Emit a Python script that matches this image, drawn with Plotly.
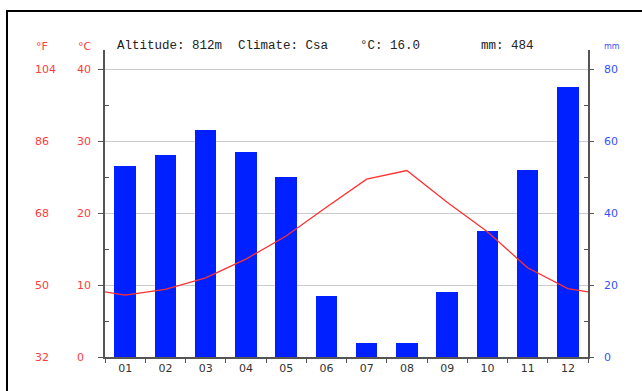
import plotly.graph_objects as go

# Monthly climate normals
months = ["01", "02", "03", "04", "05", "06", "07", "08", "09", "10", "11", "12"]
temp_c = [8.6, 9.4, 11.0, 13.6, 16.8, 20.8, 24.7, 25.9, 21.5, 17.4, 12.4, 9.5]
precip_mm = [53, 56, 63, 57, 50, 17, 4, 4, 18, 35, 52, 75]

altitude_m = 812
climate_class = "Csa"

temp_ticks_c = [0, 10, 20, 30, 40]
precip_ticks_mm = [0, 20, 40, 60, 80]

# Plot-area geometry in pixels
W, H = 642, 391
L, R, T, B = 105, 588, 50, 357
Y40 = 69  # pixel row of the 40 °C / 80 mm line
px_per_c = (B - Y40) / 40.0
c_top = (B - T) / px_per_c
mm_top = c_top * 2

def px_x(px):
    return (px - L) / (R - L)

def px_y(py):
    return (B - py) / (B - T)

x_num = list(range(1, 13))
# temperature curve wraps around the year at both edges
edge = (temp_c[0] + temp_c[-1]) / 2
line_x = [0.5] + x_num + [12.5]
line_y = [edge] + temp_c + [edge]

RED = "#ff3b3b"
BLUE_TXT = "#3552ff"
AXIS = "#555555"

fig = go.Figure()
fig.add_trace(go.Bar(
    x=x_num, y=precip_mm, yaxis="y",
    marker=dict(color="#0020ff", line=dict(width=0)),
    width=0.54, hoverinfo="skip",
))
fig.add_trace(go.Scatter(
    x=line_x, y=line_y, yaxis="y2", mode="lines",
    line=dict(color="#ff3030", width=1.3), hoverinfo="skip",
))

annotations = []
# header row
hdr_font = dict(family="Liberation Mono", size=12.5, color="#222222")
mean_c = sum(temp_c) / len(temp_c)
total_mm = sum(precip_mm)
for txt, px in [(f"Altitude: {altitude_m}m", 115),
                (f"Climate: {climate_class}", 236),
                (f"°C: {mean_c:.1f}", 358),
                (f"mm: {total_mm}", 479)]:
    annotations.append(dict(text=txt, x=px_x(px), y=px_y(46), xref="paper", yref="paper",
                            xanchor="left", yanchor="middle", showarrow=False, font=hdr_font))

lbl_font_red = dict(family="DejaVu Sans", size=11, color=RED)
lbl_font_blue = dict(family="DejaVu Sans", size=11, color=BLUE_TXT)
annotations.append(dict(text="°F", x=px_x(34), y=px_y(46), xref="paper", yref="paper",
                        xanchor="left", yanchor="middle", showarrow=False, font=lbl_font_red))
annotations.append(dict(text="°C", x=px_x(76), y=px_y(46), xref="paper", yref="paper",
                        xanchor="left", yanchor="middle", showarrow=False, font=lbl_font_red))
annotations.append(dict(text="mm", x=px_x(602), y=px_y(46), xref="paper", yref="paper",
                        xanchor="left", yanchor="middle", showarrow=False,
                        font=dict(family="DejaVu Sans", size=8, color=BLUE_TXT)))

for c in temp_ticks_c:
    f = round(c * 9 / 5 + 32)
    annotations.append(dict(text=str(f), x=px_x(33), y=c, xref="paper", yref="y2",
                            xanchor="left", yanchor="middle", showarrow=False, font=lbl_font_red))
    annotations.append(dict(text=str(c), x=px_x(75), y=c, xref="paper", yref="y2",
                            xanchor="left", yanchor="middle", showarrow=False, font=lbl_font_red))
for mm in precip_ticks_mm:
    annotations.append(dict(text=str(mm), x=px_x(602), y=mm, xref="paper", yref="y",
                            xanchor="left", yanchor="middle", showarrow=False, font=lbl_font_blue))

fig.update_layout(
    width=W, height=H,
    margin=dict(l=L, r=W - R, t=T, b=H - B, pad=0),
    paper_bgcolor="white", plot_bgcolor="white",
    showlegend=False,
    bargap=0,
    xaxis=dict(
        range=[0.5, 12.5], tickmode="array", tickvals=x_num, ticktext=months,
        ticks="", showgrid=False, zeroline=False,
        showline=True, linecolor=AXIS, linewidth=1.5,
        tickfont=dict(family="DejaVu Sans", size=11, color="#333333"),
        minor=dict(tickmode="array", tickvals=[m + 0.5 for m in range(0, 13)],
                   ticks="outside", ticklen=4, tickcolor=AXIS, tickwidth=1.2, showgrid=False),
        fixedrange=True,
    ),
    yaxis=dict(
        range=[0, mm_top], side="right", tickmode="array", tickvals=precip_ticks_mm,
        showticklabels=False, ticks="outside", ticklen=4, tickcolor=AXIS, tickwidth=1.2,
        showgrid=True, gridcolor="#cccccc", gridwidth=1, zeroline=False,
        showline=True, linecolor=AXIS, linewidth=1.5,
        minor=dict(tickmode="array", tickvals=[10, 30, 50, 70], ticks="inside",
                   ticklen=4, tickcolor=AXIS, tickwidth=1.2, showgrid=False),
        fixedrange=True,
    ),
    yaxis2=dict(
        range=[0, c_top], overlaying="y", side="left", tickmode="array", tickvals=temp_ticks_c,
        showticklabels=False, ticks="outside", ticklen=5, tickcolor=AXIS, tickwidth=1.2,
        showgrid=False, zeroline=False,
        showline=True, linecolor=AXIS, linewidth=1.5,
        minor=dict(tickmode="array", tickvals=[5, 15, 25, 35], ticks="inside",
                   ticklen=4, tickcolor=AXIS, tickwidth=1.2, showgrid=False),
        fixedrange=True,
    ),
    annotations=annotations,
    shapes=[dict(type="rect", xref="paper", yref="paper",
                 x0=px_x(7), x1=px_x(700), y0=px_y(420), y1=px_y(11),
                 line=dict(color="black", width=2), fillcolor="rgba(0,0,0,0)", layer="above")],
)

fig.write_html("out.html", config={"displayModeBar": False})
